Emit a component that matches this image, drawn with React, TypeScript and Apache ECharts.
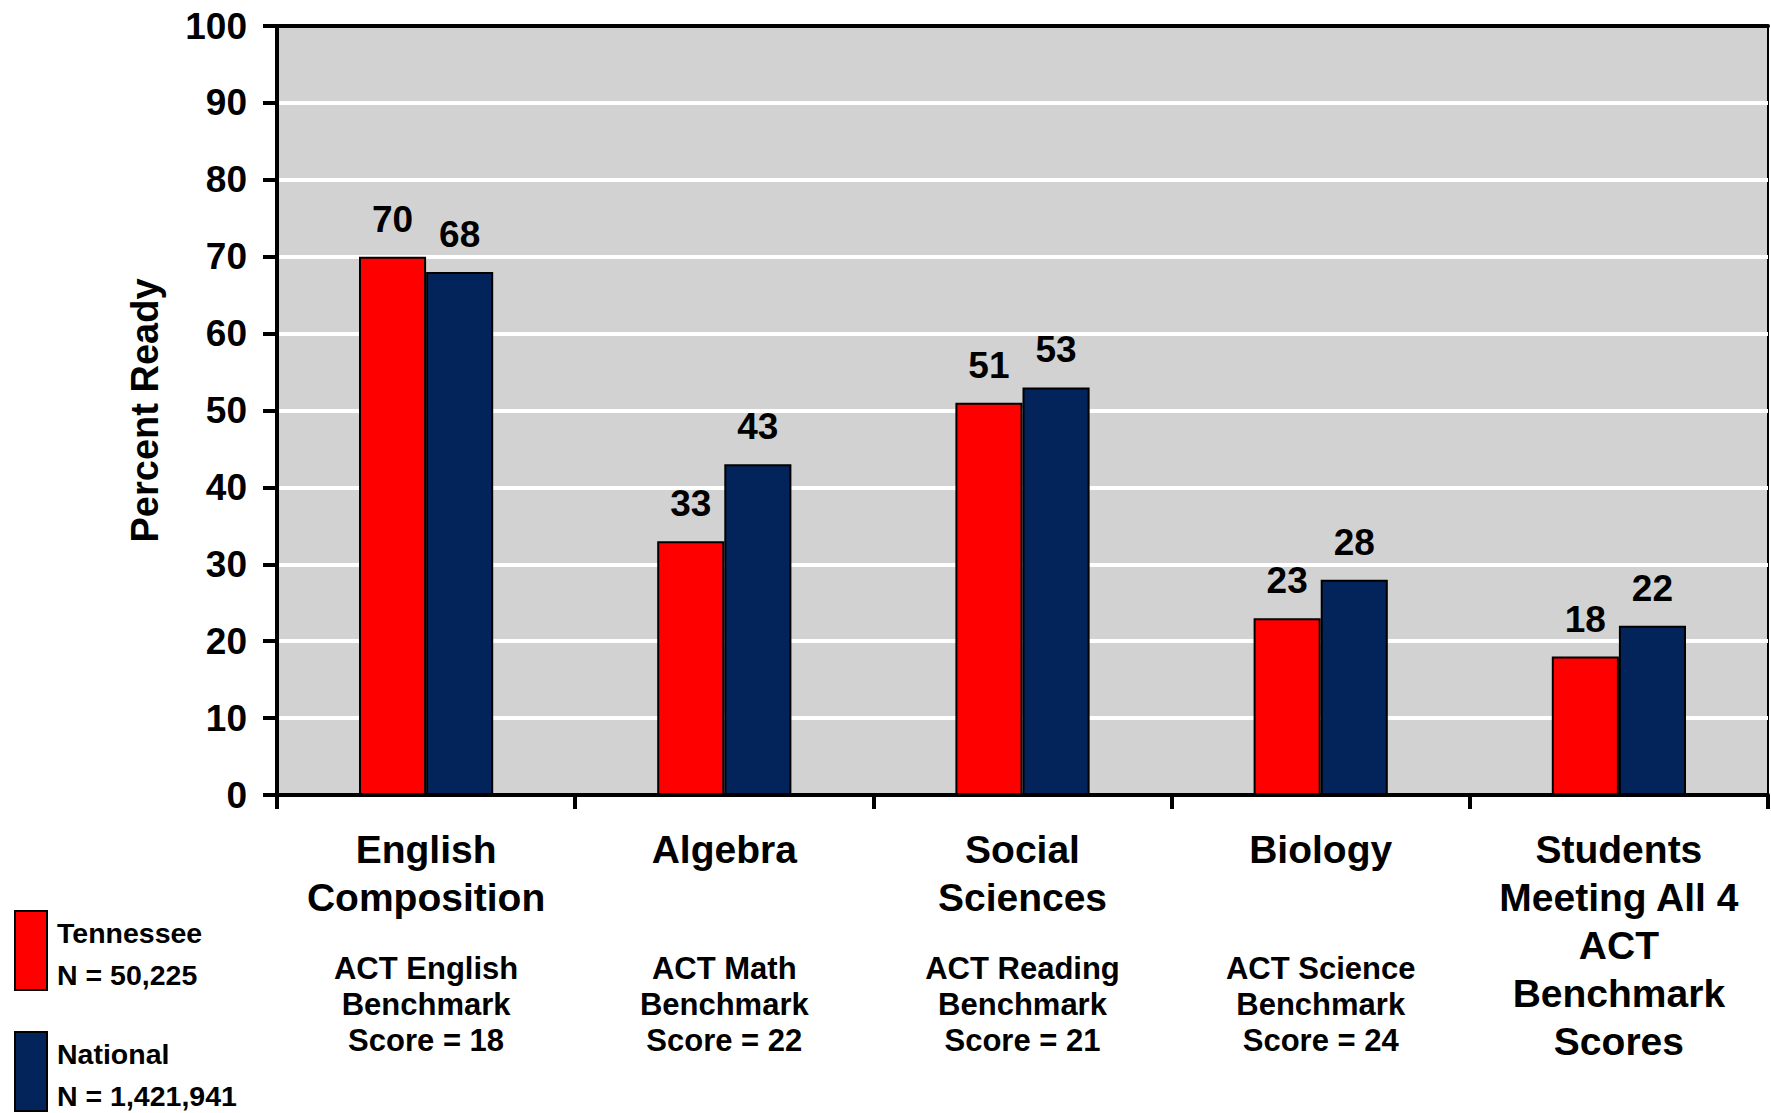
import React, { useEffect, useRef } from "react";
import * as echarts from "echarts";

const subjects = [
  "English\nComposition",
  "Algebra",
  "Social\nSciences",
  "Biology",
  "Students\nMeeting All 4\nACT\nBenchmark\nScores",
];
const benchmarks = [
  "ACT English\nBenchmark\nScore = 18",
  "ACT Math\nBenchmark\nScore = 22",
  "ACT Reading\nBenchmark\nScore = 21",
  "ACT Science\nBenchmark\nScore = 24",
  "",
];
const seriesNames = ["Tennessee", "National"];
const seriesN = ["N = 50,225", "N = 1,421,941"];
const tennessee = [70, 33, 51, 23, 18];
const national = [68, 43, 53, 28, 22];
const yMin = 0;
const yMax = 100;
const yInterval = 10;

const FONT = "'Liberation Sans', Arial, sans-serif";

export default function App() {
  const ref = useRef<HTMLDivElement>(null);
  useEffect(() => {
    document.body.style.margin = "0";
    if (!ref.current) return;
    const chart = echarts.init(ref.current, undefined, { renderer: "svg" });
    const barLabel = {
      show: true,
      position: "top",
      distance: 19,
      fontSize: 37,
      fontWeight: "bold",
      fontFamily: FONT,
      color: "#000",
    };
    chart.setOption({
      animation: false,
      backgroundColor: "#fff",
      textStyle: { fontFamily: FONT },
      grid: {
        left: 277,
        top: 26,
        width: 1491,
        height: 769,
        show: true,
        backgroundColor: "#d2d2d2",
        borderColor: "#000",
        borderWidth: 2,
        containLabel: false,
      },
      legend: {
        orient: "vertical",
        left: 14,
        top: 910,
        padding: 0,
        height: 400,
        itemWidth: 32,
        itemHeight: 79,
        itemGap: 40,
        icon: "rect",
        data: seriesNames,
        formatter: (name: string) => {
          const i = seriesNames.indexOf(name);
          return `{a|${name}}\n{a|${seriesN[i]}}`;
        },
        textStyle: {
          padding: [7, 0, 0, 5],
          rich: {
            a: {
              fontSize: 28.5,
              fontWeight: "bold",
              fontFamily: FONT,
              color: "#000",
              lineHeight: 42,
            },
          },
        },
      },
      xAxis: [
        {
          type: "category",
          data: subjects,
          position: "bottom",
          offset: 0,
          axisLine: { show: true, lineStyle: { color: "#000", width: 4 } },
          axisTick: {
            show: true,
            alignWithLabel: false,
            length: 14,
            lineStyle: { color: "#000", width: 4 },
          },
          axisLabel: {
            margin: 30,
            interval: 0,
            fontSize: 39,
            fontWeight: "bold",
            fontFamily: FONT,
            color: "#000",
            lineHeight: 48,
            align: "center",
          },
          splitLine: { show: false },
        },
        {
          type: "category",
          data: benchmarks,
          position: "bottom",
          offset: 0,
          axisLine: { show: false },
          axisTick: { show: false },
          axisLabel: {
            margin: 155,
            interval: 0,
            fontSize: 31,
            fontWeight: "bold",
            fontFamily: FONT,
            color: "#000",
            lineHeight: 36,
            align: "center",
          },
          splitLine: { show: false },
        },
        {
          type: "category",
          data: subjects,
          position: "top",
          offset: 0,
          axisLine: { show: true, lineStyle: { color: "#000", width: 4 } },
          axisTick: { show: false },
          axisLabel: { show: false },
          splitLine: { show: false },
        },
      ],
      yAxis: {
        type: "value",
        min: yMin,
        max: yMax,
        interval: yInterval,
        name: "Percent Ready",
        nameLocation: "middle",
        nameGap: 113,
        nameRotate: 90,
        nameTextStyle: {
          fontSize: 38,
          fontWeight: "bold",
          fontFamily: FONT,
          color: "#000",
        },
        axisLine: { show: true, lineStyle: { color: "#000", width: 4 } },
        axisTick: { show: true, length: 14, lineStyle: { color: "#000", width: 4 } },
        axisLabel: {
          margin: 30,
          fontSize: 37,
          fontWeight: "bold",
          fontFamily: FONT,
          color: "#000",
        },
        splitLine: { show: true, lineStyle: { color: "#fff", width: 4 } },
      },
      series: [
        {
          name: seriesNames[0],
          type: "bar",
          xAxisIndex: 0,
          data: tennessee,
          barWidth: "22.5%",
          barGap: "0%",
          itemStyle: { color: "#ff0000", borderColor: "#000", borderWidth: 2 },
          label: barLabel,
        },
        {
          name: seriesNames[1],
          type: "bar",
          xAxisIndex: 0,
          data: national,
          barWidth: "22.5%",
          barGap: "0%",
          itemStyle: { color: "#03245b", borderColor: "#000", borderWidth: 2 },
          label: barLabel,
        },
      ],
    });
    return () => chart.dispose();
  }, []);
  return <div ref={ref} style={{ width: 1771, height: 1113 }} />;
}
